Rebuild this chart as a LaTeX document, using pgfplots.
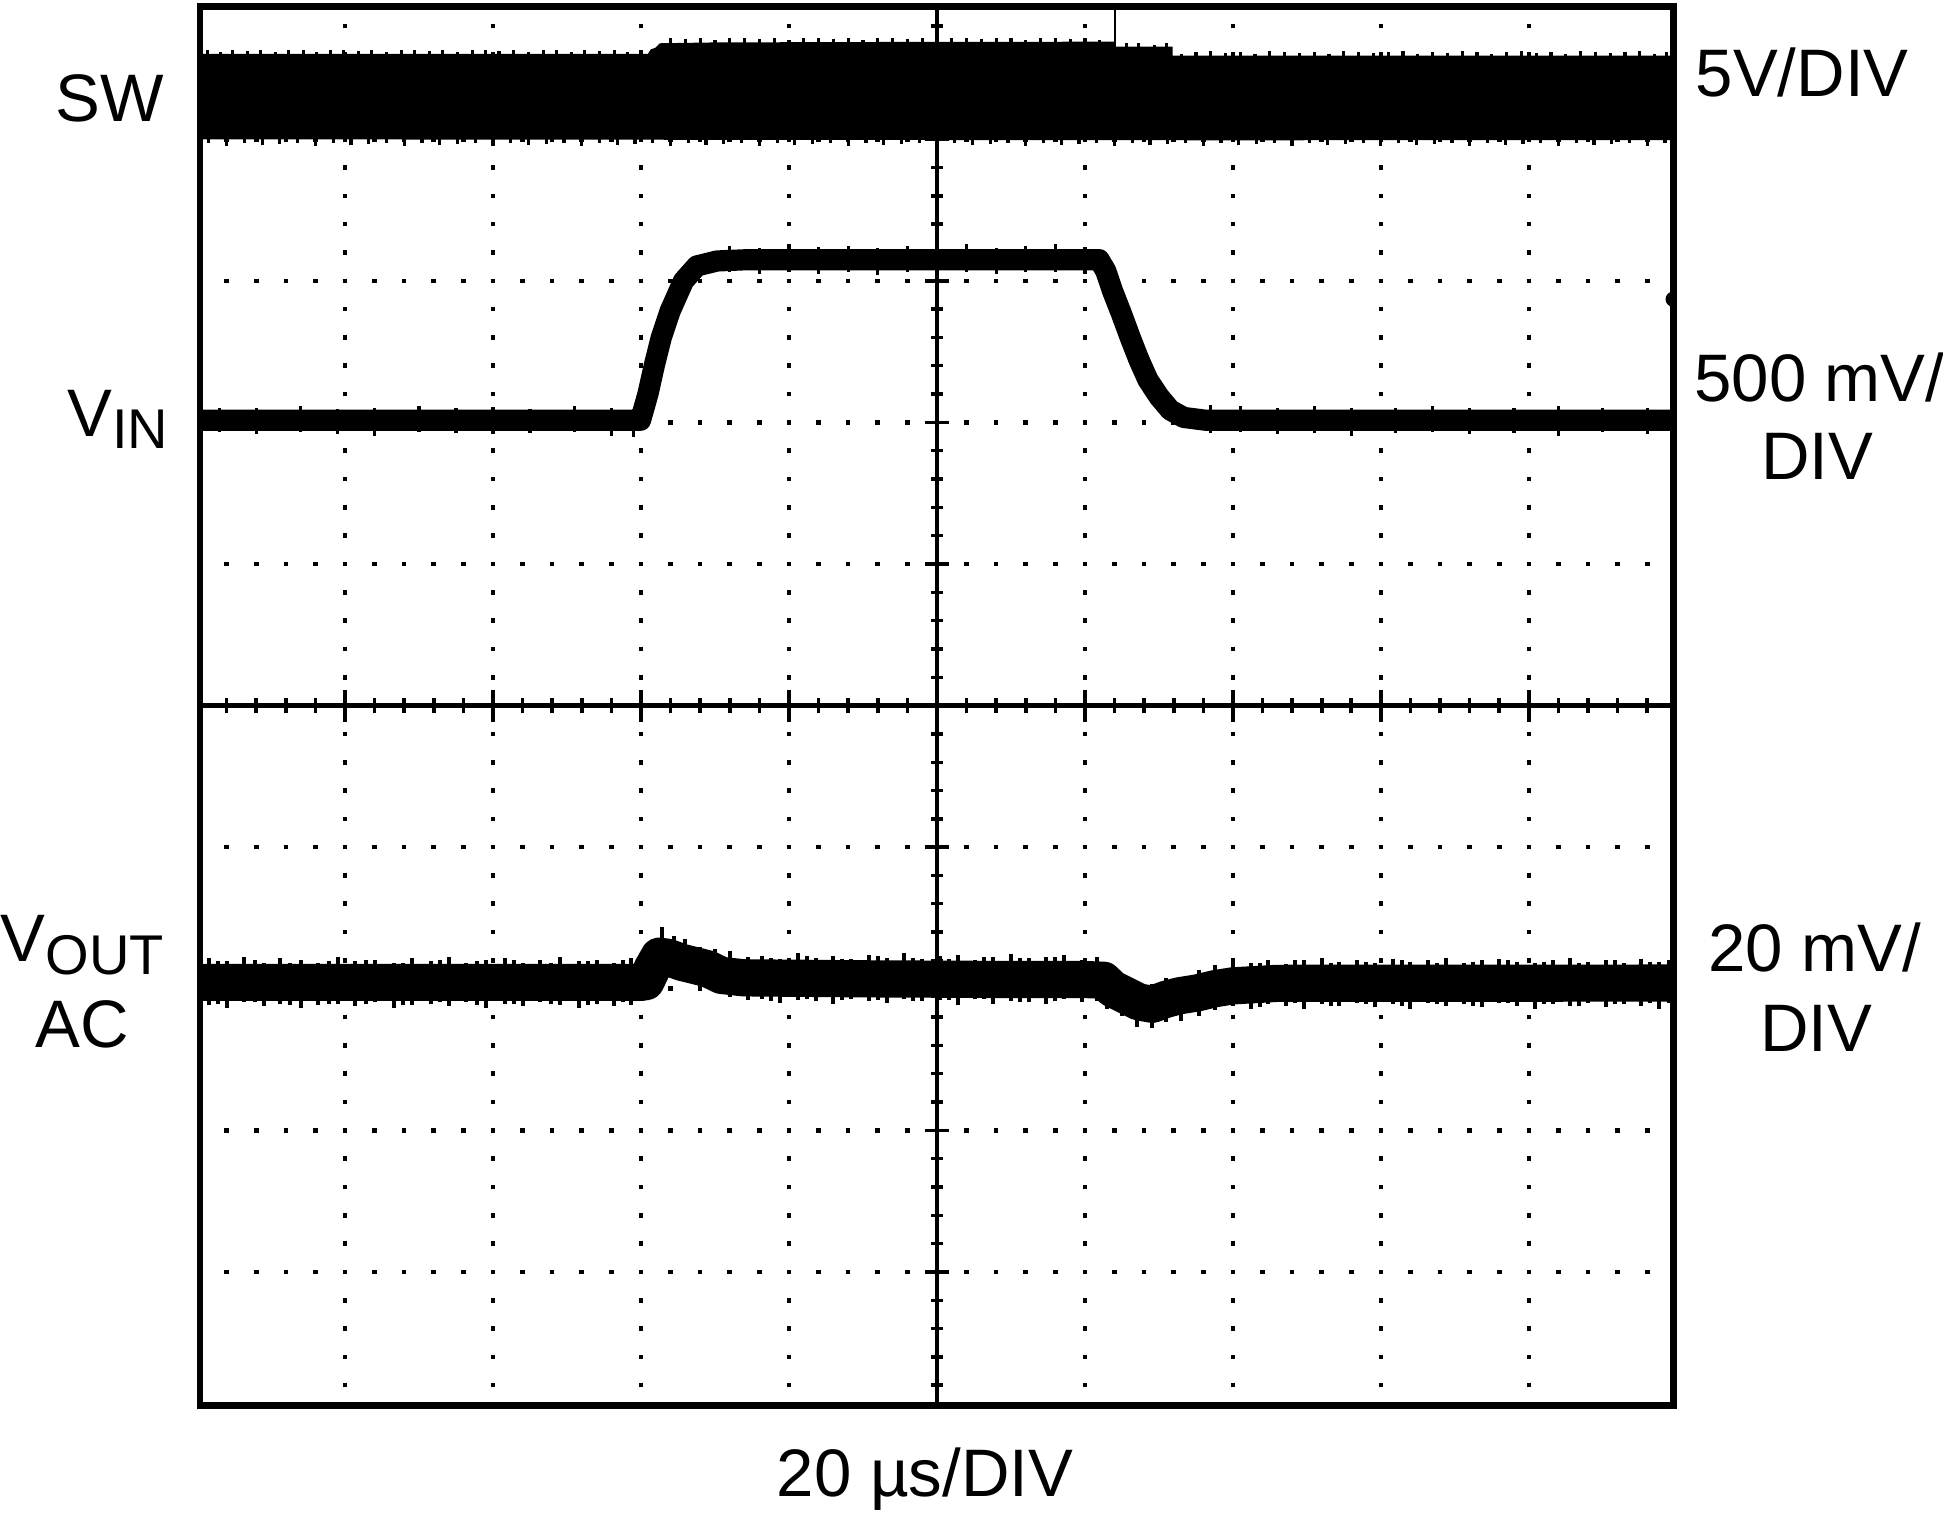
\documentclass[border=0pt]{standalone}
\usepackage{fontspec}
\setmainfont{Liberation Sans}
\usepackage{pgfplots}
\pgfplotsset{compat=1.18}
\pgfplotsset{spikes/.style={only marks, mark=*, mark size=0pt, mark options={draw=none, fill=none},
  error bars/.cd, y dir=both, y explicit, error mark=none,
  error bar style={draw=black, line width=#1}}, spikes/.default=0.8pt}
\begin{document}
\begin{tikzpicture}
\useasboundingbox (-50pt,-28pt) rectangle (435.8pt,351.4pt);
\begin{axis}[at={(0pt,0pt)}, anchor=south west, x=37pt, y=35.4pt,
  xmin=-4.98, xmax=4.975, ymin=-4.943, ymax=4.936,
  axis line style={line width=1.7pt}, ticks=none, clip=true, axis on top,
  clip marker paths=true]
% dotted grid
\pgfplotsinvokeforeach{-4,-3,-2,-1,1,2,3,4}{
  \draw[line width=1.15pt, dash pattern=on 1.15pt off 5.93pt] ([yshift=-0.575pt]axis cs:#1,-4.8) -- ([yshift=0.575pt]axis cs:#1,4.8);
  \draw[line width=1.15pt, dash pattern=on 1.15pt off 6.25pt] ([xshift=-0.575pt]axis cs:-4.8,#1) -- ([xshift=0.575pt]axis cs:4.8,#1);
}
% centre cross with ticks
\draw[line width=1.2pt] (axis cs:0,-4.943) -- (axis cs:0,4.936);
\draw[line width=1.2pt] (axis cs:-4.98,0) -- (axis cs:4.975,0);
\draw[line width=3.8pt, dash pattern=on 0.9pt off 6.5pt] ([xshift=-0.45pt]axis cs:-4.8,0) -- ([xshift=0.45pt]axis cs:4.8,0);
\draw[line width=8pt, dash pattern=on 0.9pt off 36.1pt] ([xshift=-0.45pt]axis cs:-4,0) -- ([xshift=0.45pt]axis cs:4,0);
\draw[line width=3.2pt, dash pattern=on 0.85pt off 6.23pt] ([yshift=-0.425pt]axis cs:0,-4.8) -- ([yshift=0.425pt]axis cs:0,4.8);
\draw[line width=6pt, dash pattern=on 0.85pt off 34.55pt] ([yshift=-0.425pt]axis cs:0,-4) -- ([yshift=0.425pt]axis cs:0,4);

% SW band
\addplot[fill=black, draw=black, line width=0.4pt] coordinates {
(-4.98,4.597) (-1.95,4.597) (-1.93,4.63) (-1.90,4.64) (-1.87,4.672) (-1.5,4.678) (0,4.682) (1.203,4.683)
(1.203,4.648) (1.588,4.648) (1.588,4.585) (4.975,4.585) (4.975,4.0) (2,3.998) (0,4.0) (-4.98,4.005) (-4.98,4.597)};
% SW noise spikes
\addplot[spikes] coordinates {
(-4.93,4.597) +- (0,0.03) (-4.84,4.597) +- (0,0.02) (-4.76,4.597) +- (0,0.035) (-4.66,4.597) +- (0,0.025)
(-4.57,4.597) +- (0,0.03) (-4.47,4.597) +- (0,0.02) (-4.38,4.597) +- (0,0.035) (-4.28,4.597) +- (0,0.03)
(-4.19,4.597) +- (0,0.02) (-4.10,4.597) +- (0,0.03) (-4.01,4.597) +- (0,0.035) (-3.91,4.597) +- (0,0.025)
(-3.82,4.597) +- (0,0.03) (-3.72,4.597) +- (0,0.02) (-3.62,4.597) +- (0,0.03) (-3.53,4.597) +- (0,0.035)
(-3.43,4.597) +- (0,0.025) (-3.34,4.597) +- (0,0.03) (-3.24,4.597) +- (0,0.02) (-3.14,4.597) +- (0,0.03)
(-3.05,4.597) +- (0,0.035) (-2.96,4.597) +- (0,0.025) (-2.86,4.597) +- (0,0.03) (-2.76,4.597) +- (0,0.02)
(-2.66,4.597) +- (0,0.03) (-2.57,4.597) +- (0,0.035) (-2.47,4.597) +- (0,0.02) (-2.38,4.597) +- (0,0.03)
(-2.28,4.597) +- (0,0.025) (-2.18,4.597) +- (0,0.035) (-2.09,4.597) +- (0,0.02) (-2.00,4.597) +- (0,0.03)
(-1.80,4.682) +- (0,0.03) (-1.70,4.682) +- (0,0.025) (-1.60,4.682) +- (0,0.035) (-1.50,4.682) +- (0,0.02)
(-1.40,4.682) +- (0,0.03) (-1.30,4.682) +- (0,0.035) (-1.20,4.682) +- (0,0.025) (-1.10,4.682) +- (0,0.03)
(-1.00,4.682) +- (0,0.02) (-0.90,4.682) +- (0,0.035) (-0.80,4.682) +- (0,0.03) (-0.70,4.682) +- (0,0.025)
(-0.60,4.682) +- (0,0.03) (-0.50,4.682) +- (0,0.02) (-0.40,4.682) +- (0,0.035) (-0.30,4.682) +- (0,0.03)
(-0.20,4.682) +- (0,0.025) (-0.10,4.682) +- (0,0.03) (0.00,4.682) +- (0,0.02) (0.10,4.682) +- (0,0.035)
(0.20,4.682) +- (0,0.03) (0.30,4.682) +- (0,0.025) (0.40,4.682) +- (0,0.03) (0.50,4.682) +- (0,0.035)
(0.60,4.682) +- (0,0.02) (0.70,4.682) +- (0,0.03) (0.80,4.682) +- (0,0.035) (0.90,4.682) +- (0,0.025)
(1.00,4.682) +- (0,0.03) (1.10,4.682) +- (0,0.02)
(1.28,4.648) +- (0,0.03) (1.36,4.648) +- (0,0.035) (1.47,4.648) +- (0,0.02) (1.55,4.648) +- (0,0.03)
(1.65,4.585) +- (0,0.02) (1.75,4.585) +- (0,0.03) (1.85,4.585) +- (0,0.035) (1.95,4.585) +- (0,0.025)
(2.05,4.585) +- (0,0.03) (2.15,4.585) +- (0,0.02) (2.25,4.585) +- (0,0.035) (2.35,4.585) +- (0,0.03)
(2.45,4.585) +- (0,0.025) (2.55,4.585) +- (0,0.03) (2.65,4.585) +- (0,0.02) (2.75,4.585) +- (0,0.035)
(2.85,4.585) +- (0,0.03) (2.95,4.585) +- (0,0.025) (3.05,4.585) +- (0,0.03) (3.15,4.585) +- (0,0.035)
(3.25,4.585) +- (0,0.02) (3.35,4.585) +- (0,0.03) (3.45,4.585) +- (0,0.025) (3.55,4.585) +- (0,0.035)
(3.65,4.585) +- (0,0.03) (3.75,4.585) +- (0,0.02) (3.85,4.585) +- (0,0.03) (3.95,4.585) +- (0,0.035)
(4.05,4.585) +- (0,0.025) (4.15,4.585) +- (0,0.03) (4.25,4.585) +- (0,0.02) (4.35,4.585) +- (0,0.035)
(4.45,4.585) +- (0,0.03) (4.55,4.585) +- (0,0.025) (4.65,4.585) +- (0,0.03) (4.75,4.585) +- (0,0.035)
(4.85,4.585) +- (0,0.02) (4.93,4.585) +- (0,0.03)
(-4.92,4.0) +- (0,0.03) (-4.80,4.0) +- (0,0.045) (-4.68,4.0) +- (0,0.025) (-4.56,4.0) +- (0,0.04)
(-4.44,4.0) +- (0,0.035) (-4.32,4.0) +- (0,0.03) (-4.20,4.0) +- (0,0.045) (-4.08,4.0) +- (0,0.025)
(-3.96,4.0) +- (0,0.04) (-3.84,4.0) +- (0,0.035) (-3.72,4.0) +- (0,0.03) (-3.60,4.0) +- (0,0.045)
(-3.48,4.0) +- (0,0.025) (-3.36,4.0) +- (0,0.04) (-3.24,4.0) +- (0,0.035) (-3.12,4.0) +- (0,0.03)
(-3.00,4.0) +- (0,0.045) (-2.88,4.0) +- (0,0.025) (-2.76,4.0) +- (0,0.04) (-2.64,4.0) +- (0,0.035)
(-2.52,4.0) +- (0,0.03) (-2.40,4.0) +- (0,0.045) (-2.28,4.0) +- (0,0.025) (-2.16,4.0) +- (0,0.04)
(-2.04,4.0) +- (0,0.035) (-1.92,4.0) +- (0,0.03) (-1.80,4.0) +- (0,0.045) (-1.68,4.0) +- (0,0.025)
(-1.56,4.0) +- (0,0.04) (-1.44,4.0) +- (0,0.035) (-1.32,4.0) +- (0,0.03) (-1.20,4.0) +- (0,0.045)
(-1.08,4.0) +- (0,0.025) (-0.96,4.0) +- (0,0.04) (-0.84,4.0) +- (0,0.035) (-0.72,4.0) +- (0,0.03)
(-0.60,4.0) +- (0,0.045) (-0.48,4.0) +- (0,0.025) (-0.36,4.0) +- (0,0.04) (-0.24,4.0) +- (0,0.035)
(-0.12,4.0) +- (0,0.03) (0.00,4.0) +- (0,0.045) (0.12,4.0) +- (0,0.025) (0.24,4.0) +- (0,0.04)
(0.36,4.0) +- (0,0.035) (0.48,4.0) +- (0,0.03) (0.60,4.0) +- (0,0.045) (0.72,4.0) +- (0,0.025)
(0.84,4.0) +- (0,0.04) (0.96,4.0) +- (0,0.035) (1.08,4.0) +- (0,0.03) (1.20,4.0) +- (0,0.045)
(1.32,4.0) +- (0,0.025) (1.44,4.0) +- (0,0.04) (1.56,4.0) +- (0,0.035) (1.68,4.0) +- (0,0.03)
(1.80,4.0) +- (0,0.045) (1.92,4.0) +- (0,0.025) (2.04,4.0) +- (0,0.04) (2.16,4.0) +- (0,0.035)
(2.28,4.0) +- (0,0.03) (2.40,4.0) +- (0,0.045) (2.52,4.0) +- (0,0.025) (2.64,4.0) +- (0,0.04)
(2.76,4.0) +- (0,0.035) (2.88,4.0) +- (0,0.03) (3.00,4.0) +- (0,0.045) (3.12,4.0) +- (0,0.025)
(3.24,4.0) +- (0,0.04) (3.36,4.0) +- (0,0.035) (3.48,4.0) +- (0,0.03) (3.60,4.0) +- (0,0.045)
(3.72,4.0) +- (0,0.025) (3.84,4.0) +- (0,0.04) (3.96,4.0) +- (0,0.035) (4.08,4.0) +- (0,0.03)
(4.20,4.0) +- (0,0.045) (4.32,4.0) +- (0,0.025) (4.44,4.0) +- (0,0.04) (4.56,4.0) +- (0,0.035)
(4.68,4.0) +- (0,0.03) (4.80,4.0) +- (0,0.045) (4.92,4.0) +- (0,0.025)
};
% trigger marker line
\addplot[line width=0.5pt] coordinates {(1.203,4.936) (1.203,4.69)};

% VIN
\addplot[line width=5.3pt, line join=round] coordinates {
(-4.98,2.015) (-2.003,2.015) (-1.952,2.204) (-1.907,2.415) (-1.862,2.602) (-1.802,2.789) (-1.712,3.0)
(-1.622,3.105) (-1.486,3.14) (-1.306,3.148) (0,3.149) (1.096,3.149) (1.141,3.07) (1.186,2.93) (1.246,2.77)
(1.306,2.60) (1.366,2.44) (1.426,2.30) (1.502,2.18) (1.577,2.087) (1.667,2.035) (1.817,2.015) (4.975,2.015)};
\addplot[spikes] coordinates {
(-4.85,2.015) += (0,0.09) -= (0,0.085) (-4.6,2.015) += (0,0.085) -= (0,0.1) (-4.3,2.015) += (0,0.1) -= (0,0.08)
(-4.05,2.015) += (0,0.08) -= (0,0.095) (-3.8,2.015) += (0,0.09) -= (0,0.11) (-3.5,2.015) += (0,0.1) -= (0,0.085)
(-3.25,2.015) += (0,0.085) -= (0,0.09) (-3.0,2.015) += (0,0.095) -= (0,0.1) (-2.75,2.015) += (0,0.08) -= (0,0.09)
(-2.45,2.015) += (0,0.1) -= (0,0.085) (-2.2,2.015) += (0,0.09) -= (0,0.11) (-2.05,2.015) += (0,0.08) -= (0,0.12)
(-1.4,3.149) += (0,0.1) -= (0,0.09) (-1.2,3.149) += (0,0.085) -= (0,0.1) (-1.0,3.149) += (0,0.11) -= (0,0.085)
(-0.8,3.149) += (0,0.09) -= (0,0.1) (-0.6,3.149) += (0,0.1) -= (0,0.085) (-0.4,3.149) += (0,0.085) -= (0,0.11)
(-0.2,3.149) += (0,0.1) -= (0,0.09) (0.0,3.149) += (0,0.09) -= (0,0.085) (0.2,3.149) += (0,0.11) -= (0,0.09)
(0.4,3.149) += (0,0.085) -= (0,0.1) (0.6,3.149) += (0,0.1) -= (0,0.09) (0.8,3.149) += (0,0.11) -= (0,0.085)
(1.0,3.149) += (0,0.09) -= (0,0.1)
(1.85,2.015) += (0,0.11) -= (0,0.09) (2.05,2.015) += (0,0.1) -= (0,0.085) (2.3,2.015) += (0,0.085) -= (0,0.1)
(2.55,2.015) += (0,0.1) -= (0,0.09) (2.8,2.015) += (0,0.09) -= (0,0.11) (3.1,2.015) += (0,0.085) -= (0,0.09)
(3.35,2.015) += (0,0.1) -= (0,0.085) (3.6,2.015) += (0,0.09) -= (0,0.1) (3.9,2.015) += (0,0.085) -= (0,0.09)
(4.2,2.015) += (0,0.1) -= (0,0.11) (4.5,2.015) += (0,0.09) -= (0,0.085) (4.8,2.015) += (0,0.085) -= (0,0.1)
};
\addplot[only marks, mark=*, mark size=1.7pt, black] coordinates {(4.975,2.87)};

% VOUT AC
\addplot[line width=9.3pt, line join=round] coordinates {
(-4.98,-1.955) (-2.0,-1.955) (-1.967,-1.95) (-1.922,-1.852) (-1.877,-1.77) (-1.817,-1.778) (-1.727,-1.813)
(-1.637,-1.836) (-1.547,-1.86) (-1.456,-1.906) (-1.306,-1.923) (-0.5,-1.93) (0.5,-1.935) (1.0,-1.935)
(1.126,-1.94) (1.186,-2.0) (1.276,-2.047) (1.366,-2.094) (1.456,-2.11) (1.547,-2.075) (1.637,-2.05)
(1.757,-2.03) (1.877,-2.0) (1.997,-1.98) (2.3,-1.962) (4.975,-1.96)};
\addplot[spikes=1pt] coordinates {
(-4.92,-1.955) += (0,0.17) -= (0,0.16) (-4.80,-1.955) += (0,0.15) -= (0,0.18) (-4.68,-1.955) += (0,0.18) -= (0,0.14)
(-4.55,-1.955) += (0,0.14) -= (0,0.17) (-4.44,-1.955) += (0,0.17) -= (0,0.15) (-4.30,-1.955) += (0,0.16) -= (0,0.18)
(-4.18,-1.955) += (0,0.14) -= (0,0.16) (-4.05,-1.955) += (0,0.18) -= (0,0.15) (-3.93,-1.955) += (0,0.15) -= (0,0.17)
(-3.80,-1.955) += (0,0.16) -= (0,0.14) (-3.67,-1.955) += (0,0.14) -= (0,0.18) (-3.55,-1.955) += (0,0.17) -= (0,0.16)
(-3.42,-1.955) += (0,0.15) -= (0,0.15) (-3.30,-1.955) += (0,0.18) -= (0,0.17) (-3.18,-1.955) += (0,0.14) -= (0,0.14)
(-3.05,-1.955) += (0,0.16) -= (0,0.18) (-2.92,-1.955) += (0,0.17) -= (0,0.15) (-2.80,-1.955) += (0,0.14) -= (0,0.17)
(-2.68,-1.955) += (0,0.16) -= (0,0.14) (-2.55,-1.955) += (0,0.18) -= (0,0.16) (-2.42,-1.955) += (0,0.15) -= (0,0.18)
(-2.30,-1.955) += (0,0.16) -= (0,0.15) (-2.18,-1.955) += (0,0.14) -= (0,0.17) (-2.07,-1.955) += (0,0.17) -= (0,0.16)
(-1.93,-1.85) += (0,0.15) -= (0,0.13) (-1.86,-1.775) += (0,0.21) -= (0,0.14) (-1.78,-1.79) += (0,0.16) -= (0,0.13)
(-1.70,-1.82) += (0,0.17) -= (0,0.13) (-1.60,-1.845) += (0,0.14) -= (0,0.15) (-1.50,-1.88) += (0,0.16) -= (0,0.13)
(-1.40,-1.915) += (0,0.18) -= (0,0.14) (-1.28,-1.923) += (0,0.15) -= (0,0.16)
(-1.18,-1.93) += (0,0.16) -= (0,0.14) (-1.06,-1.93) += (0,0.14) -= (0,0.17) (-0.94,-1.93) += (0,0.18) -= (0,0.15)
(-0.82,-1.93) += (0,0.15) -= (0,0.16) (-0.70,-1.93) += (0,0.16) -= (0,0.18) (-0.58,-1.93) += (0,0.14) -= (0,0.14)
(-0.46,-1.93) += (0,0.17) -= (0,0.16) (-0.34,-1.93) += (0,0.15) -= (0,0.17) (-0.22,-1.93) += (0,0.18) -= (0,0.14)
(-0.10,-1.93) += (0,0.14) -= (0,0.16) (0.02,-1.93) += (0,0.16) -= (0,0.15) (0.14,-1.935) += (0,0.17) -= (0,0.18)
(0.26,-1.935) += (0,0.14) -= (0,0.14) (0.38,-1.935) += (0,0.16) -= (0,0.17) (0.50,-1.935) += (0,0.18) -= (0,0.15)
(0.62,-1.935) += (0,0.15) -= (0,0.16) (0.74,-1.935) += (0,0.16) -= (0,0.17) (0.86,-1.935) += (0,0.17) -= (0,0.14)
(0.98,-1.935) += (0,0.14) -= (0,0.16) (1.08,-1.937) += (0,0.16) -= (0,0.15)
(1.15,-1.97) += (0,0.13) -= (0,0.17) (1.25,-2.035) += (0,0.14) -= (0,0.16) (1.35,-2.09) += (0,0.13) -= (0,0.18)
(1.45,-2.11) += (0,0.14) -= (0,0.17) (1.55,-2.075) += (0,0.15) -= (0,0.16) (1.65,-2.048) += (0,0.13) -= (0,0.18)
(1.77,-2.025) += (0,0.16) -= (0,0.17) (1.88,-2.0) += (0,0.17) -= (0,0.15) (2.00,-1.98) += (0,0.16) -= (0,0.14)
(2.12,-1.97) += (0,0.15) -= (0,0.17) (2.24,-1.965) += (0,0.17) -= (0,0.14) (2.36,-1.962) += (0,0.14) -= (0,0.16)
(2.48,-1.96) += (0,0.16) -= (0,0.18) (2.60,-1.96) += (0,0.18) -= (0,0.15) (2.72,-1.96) += (0,0.15) -= (0,0.16)
(2.84,-1.96) += (0,0.16) -= (0,0.14) (2.96,-1.96) += (0,0.14) -= (0,0.17) (3.08,-1.96) += (0,0.17) -= (0,0.15)
(3.20,-1.96) += (0,0.15) -= (0,0.18) (3.32,-1.96) += (0,0.16) -= (0,0.14) (3.44,-1.96) += (0,0.18) -= (0,0.16)
(3.56,-1.96) += (0,0.14) -= (0,0.15) (3.68,-1.96) += (0,0.16) -= (0,0.17) (3.80,-1.96) += (0,0.17) -= (0,0.14)
(3.92,-1.96) += (0,0.15) -= (0,0.16) (4.04,-1.96) += (0,0.14) -= (0,0.18) (4.16,-1.96) += (0,0.16) -= (0,0.15)
(4.28,-1.96) += (0,0.18) -= (0,0.16) (4.40,-1.96) += (0,0.15) -= (0,0.14) (4.52,-1.96) += (0,0.16) -= (0,0.17)
(4.64,-1.96) += (0,0.14) -= (0,0.15) (4.76,-1.96) += (0,0.17) -= (0,0.16) (4.88,-1.96) += (0,0.15) -= (0,0.18)
(4.95,-1.96) += (0,0.16) -= (0,0.14)
(-4.86,-1.955) += (0,0.15) -= (0,0.15) (-4.61,-1.955) += (0,0.16) -= (0,0.14) (-4.37,-1.955) += (0,0.14) -= (0,0.16)
(-4.11,-1.955) += (0,0.15) -= (0,0.15) (-3.86,-1.955) += (0,0.16) -= (0,0.15) (-3.61,-1.955) += (0,0.14) -= (0,0.16)
(-3.36,-1.955) += (0,0.16) -= (0,0.14) (-3.11,-1.955) += (0,0.15) -= (0,0.16) (-2.86,-1.955) += (0,0.16) -= (0,0.15)
(-2.61,-1.955) += (0,0.14) -= (0,0.15) (-2.36,-1.955) += (0,0.15) -= (0,0.16) (-2.12,-1.955) += (0,0.16) -= (0,0.14)
(-1.12,-1.93) += (0,0.15) -= (0,0.16) (-0.88,-1.93) += (0,0.16) -= (0,0.14) (-0.64,-1.93) += (0,0.14) -= (0,0.15)
(-0.40,-1.93) += (0,0.16) -= (0,0.15) (-0.16,-1.93) += (0,0.15) -= (0,0.16) (0.08,-1.933) += (0,0.14) -= (0,0.15)
(0.32,-1.935) += (0,0.16) -= (0,0.14) (0.56,-1.935) += (0,0.15) -= (0,0.16) (0.80,-1.935) += (0,0.16) -= (0,0.15)
(2.18,-1.968) += (0,0.15) -= (0,0.16) (2.42,-1.96) += (0,0.16) -= (0,0.14) (2.66,-1.96) += (0,0.14) -= (0,0.16)
(2.90,-1.96) += (0,0.15) -= (0,0.15) (3.14,-1.96) += (0,0.16) -= (0,0.16) (3.38,-1.96) += (0,0.14) -= (0,0.15)
(3.62,-1.96) += (0,0.15) -= (0,0.16) (3.86,-1.96) += (0,0.16) -= (0,0.14) (4.10,-1.96) += (0,0.15) -= (0,0.15)
(4.34,-1.96) += (0,0.14) -= (0,0.16) (4.58,-1.96) += (0,0.16) -= (0,0.15) (4.82,-1.96) += (0,0.15) -= (0,0.14)
};
\end{axis}
% labels
\begin{scope}[every node/.style={inner sep=0pt, font=\fontsize{16.8}{20}\selectfont}]
\node[anchor=base] at (-22.5pt,321pt) {SW};
\node[anchor=base] at (-20.5pt,242.25pt) {V\raisebox{-3pt}{\fontsize{14}{14}\selectfont IN}};
\node[anchor=base] at (-29.4pt,111pt) {V\raisebox{-3.2pt}{\fontsize{14}{14}\selectfont OUT}};
\node[anchor=base] at (-29.5pt,89.5pt) {AC};
\node[anchor=base] at (400.6pt,327.25pt) {5V/DIV};
\node[anchor=base] at (404.9pt,251pt) {500 mV/};
\node[anchor=base] at (404.4pt,231.5pt) {DIV};
\node[anchor=base] at (403.75pt,108.5pt) {20 mV/};
\node[anchor=base] at (404.1pt,88.5pt) {DIV};
\node[anchor=base] at (181.25pt,-22.75pt) {20 µs/DIV};
\end{scope}
\end{tikzpicture}
\end{document}
